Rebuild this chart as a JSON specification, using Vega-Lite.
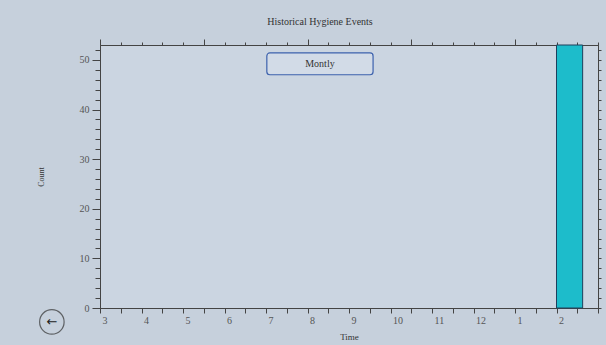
{
  "$schema": "https://vega.github.io/schema/vega-lite/v6.json",
  "width": 498,
  "height": 263,
  "autosize": {"type": "none"},
  "padding": {"left": 100, "top": 45, "right": 8, "bottom": 37},
  "background": "#c6d0dc",
  "title": {"text": "Historical Hygiene Events", "font": "Liberation Serif", "fontSize": 10, "fontWeight": "normal", "color": "#333333", "anchor": "middle", "dx": -29, "offset": 12},
  "config": {"view": {"fill": "#cbd5e1", "stroke": "#555555", "strokeWidth": 1}, "font": "Liberation Serif"},
  "datasets": {
    "events": [{"month_start": 11, "month_end": 11.63, "count": 53}],
    "button": [{"label": "Montly", "x0": 4.02, "x1": 6.58, "y0": 47, "y1": 51.4, "xc": 5.3, "yc": 49.2}],
    "back": [{"label": "←", "x": -1.16, "y": -2.8}]
  },
  "layer": [
    {
      "data": {"name": "events"},
      "mark": {"type": "rect", "fill": "#1dbccb", "stroke": "#1e3f5c", "strokeWidth": 1},
      "encoding": {
        "x": {
          "field": "month_start", "type": "quantitative",
          "scale": {"domain": [0, 12], "nice": false, "zero": false},
          "axis": {
            "orient": "bottom", "title": "Time", "titleFont": "Liberation Serif", "titleFontSize": 9, "titleFontWeight": "normal", "titleColor": "#333333", "titlePadding": 7,
            "values": [0,0.5,1,1.5,2,2.5,3,3.5,4,4.5,5,5.5,6,6.5,7,7.5,8,8.5,9,9.5,10,10.5,11,11.5,12],
            "labelExpr": "datum.value % 1 === 0 && datum.value < 12 ? '' + ((datum.value + 2) % 12 + 1) : ''",
            "labelAlign": "left", "labelOffset": 2, "labelOverlap": false, "labelBound": false, "labelFlush": false,
            "labelFont": "Liberation Serif", "labelFontSize": 10, "labelColor": "#555555", "labelPadding": 2,
            "tickSize": 5,
            "tickColor": "#444444", "domainColor": "#444444", "grid": false
          }
        },
        "x2": {"field": "month_end"},
        "y": {
          "field": "count", "type": "quantitative",
          "scale": {"domain": [0, 53], "nice": false},
          "axis": {
            "orient": "left", "title": "Count", "titleFont": "Liberation Serif", "titleFontSize": 8, "titleFontWeight": "normal", "titleColor": "#333333", "titlePadding": 34,
            "values": [0,2,4,6,8,10,12,14,16,18,20,22,24,26,28,30,32,34,36,38,40,42,44,46,48,50,52],
            "labelExpr": "datum.value % 10 === 0 ? datum.label : ''",
            "labelOverlap": false, "labelBound": false, "labelFlush": false,
            "labelFont": "Liberation Serif", "labelFontSize": 10, "labelColor": "#555555", "labelPadding": 3,
            "tickSize": {"condition": {"test": "datum.value % 10 === 0", "value": 8}, "value": 5},
            "tickColor": "#444444", "domainColor": "#444444", "grid": false
          }
        },
        "y2": {"datum": 0}
      }
    },
    {
      "data": {"name": "button"},
      "mark": {"type": "rect", "fill": "#d2dbe7", "stroke": "#3d62ad", "strokeWidth": 1.2, "cornerRadius": 3},
      "encoding": {
        "x": {
          "field": "x0", "type": "quantitative",
          "axis": {
            "orient": "top", "title": null, "labels": false,
            "values": [0,0.5,1,1.5,2,2.5,3,3.5,4,4.5,5,5.5,6,6.5,7,7.5,8,8.5,9,9.5,10,10.5,11,11.5,12],
            "tickSize": {"condition": {"test": "datum.value % 2.5 === 0", "value": 6}, "value": 3},
            "tickColor": "#444444", "domainColor": "#444444", "grid": false
          }
        },
        "x2": {"field": "x1"},
        "y": {
          "field": "y0", "type": "quantitative",
          "axis": {
            "orient": "right", "title": null, "labels": false,
            "values": [0,2,4,6,8,10,12,14,16,18,20,22,24,26,28,30,32,34,36,38,40,42,44,46,48,50,52],
            "tickSize": 3, "tickColor": "#444444", "domainColor": "#444444", "grid": false
          }
        },
        "y2": {"field": "y1"}
      }
    },
    {
      "data": {"name": "button"},
      "mark": {"type": "text", "font": "Liberation Serif", "fontSize": 10, "color": "#333333", "align": "center", "baseline": "middle"},
      "encoding": {
        "x": {"field": "xc", "type": "quantitative", "axis": null},
        "y": {"field": "yc", "type": "quantitative", "axis": null},
        "text": {"field": "label"}
      }
    },
    {
      "data": {"name": "back"},
      "mark": {"type": "point", "shape": "circle", "size": 600, "filled": false, "stroke": "#333333", "strokeWidth": 1.2, "clip": false},
      "encoding": {
        "x": {"field": "x", "type": "quantitative", "axis": null},
        "y": {"field": "y", "type": "quantitative", "axis": null}
      }
    },
    {
      "data": {"name": "back"},
      "mark": {"type": "text", "font": "DejaVu Sans", "fontSize": 13, "color": "#222222", "align": "center", "baseline": "middle", "clip": false},
      "encoding": {
        "x": {"field": "x", "type": "quantitative", "axis": null},
        "y": {"field": "y", "type": "quantitative", "axis": null},
        "text": {"field": "label"}
      }
    }
  ]
}
